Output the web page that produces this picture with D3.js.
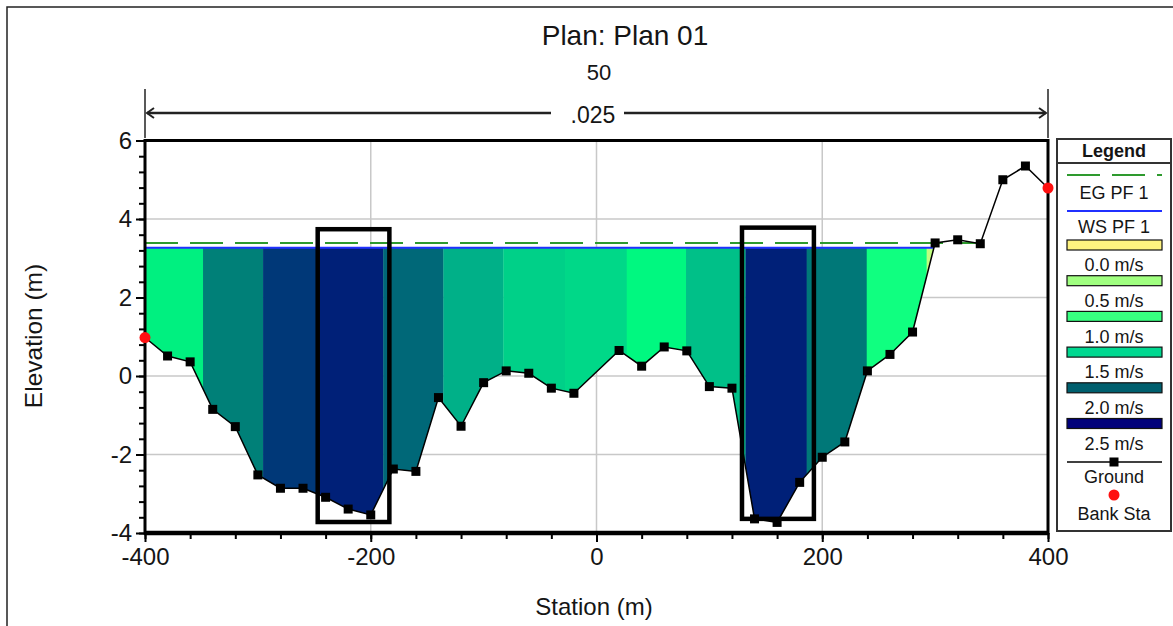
<!DOCTYPE html>
<html><head><meta charset="utf-8">
<script src="https://cdn.jsdelivr.net/npm/d3@7"></script>
<style>
body{margin:0;background:#fff;}
svg text{font-family:"Liberation Sans",Arial,sans-serif;fill:#151515;}
</style></head><body>
<svg id="c" width="1173" height="626"></svg>
<script>
// ---- data ----
const stations   = [-400,-380,-360,-340,-320,-300,-280,-260,-240,-220,-200,-180,-160,-140,-120,-100,-80,-60,-40,-20,
                    20,40,60,80,100,120,140,160,180,200,220,240,260,280,300,320,340,360,380,400];
const elevations = [0.98,0.51,0.36,-0.85,-1.29,-2.52,-2.86,-2.86,-3.09,-3.39,-3.54,-2.37,-2.43,-0.55,-1.28,-0.17,0.13,0.07,-0.31,-0.44,
                    0.65,0.25,0.74,0.64,-0.27,-0.31,-3.64,-3.73,-2.71,-2.07,-1.68,0.13,0.55,1.12,3.39,3.47,3.37,5.0,5.35,4.79];
const bankStations = [-400, 400];
const wsElevation = 3.27;
const egElevation = 3.39;
const egRight = 340;
const sliceEdges    = [-400,-348.6,-295.4,-247,-189,-135.7,-82.6,-27.9,26.8,79.3,132,186.2,239.4,292.5,300];
const sliceVelocity = [1.1,1.8,2.2,2.4,2.0,1.6,1.4,1.3,1.0,1.5,2.4,1.9,0.9,0.1];
const rampVelocity  = [0.1,0.9,1.0,1.1,1.3,1.4,1.5,1.6,1.8,1.9,2.0,2.2,2.4];
const rampColors    = ["#c0ff80","#10ff80","#00f880","#00f080","#00d888","#00d088","#00c088","#00b088","#008078","#007878","#006878","#003878","#002078"];
const legendVelocities = [0.0,0.5,1.0,1.5,2.0,2.5];
const legendLabels     = ["0.0 m/s","0.5 m/s","1.0 m/s","1.5 m/s","2.0 m/s","2.5 m/s"];
const legendColors     = ["#fff380","#a0ff80","#38ff80","#00d890","#005f6e","#00007a"];
const xTicks = [-400,-200,0,200,400];
const yTicks = [-4,-2,0,2,4,6];
const highlightBoxes = [[-247,-183.5,-3.72,3.74],[128.9,192.6,-3.64,3.78]];
const titleText = "Plan: Plan 01";
const subtitleText = "50";
const manningN = ".025";

// ---- chart ----
const svg = d3.select("#c");
const x = d3.scaleLinear().domain([-400,400]).range([145,1048]);
const y = d3.scaleLinear().domain([-4,6]).range([533,140.5]);
const velColor = d3.scaleLinear().domain(rampVelocity).range(rampColors).clamp(true);
const fmt = d => String(d);

// outer frame
svg.append("path").attr("d","M7,640 L7,7 L1180,7").attr("fill","none").attr("stroke","#222").attr("stroke-width",1.5);

// title
svg.append("text").attr("x",625).attr("y",35).attr("dy","0.35em").attr("text-anchor","middle").attr("font-size",28).text(titleText);
svg.append("text").attr("x",599).attr("y",72).attr("dy","0.35em").attr("text-anchor","middle").attr("font-size",22).text(subtitleText);

// Manning's n span arrow
const ay = 113;
const ag = svg.append("g").attr("stroke","#222").attr("fill","none");
ag.append("line").attr("x1",x(-400)).attr("x2",x(-400)).attr("y1",89).attr("y2",138).attr("stroke-width",1.5);
ag.append("line").attr("x1",x(400)).attr("x2",x(400)).attr("y1",89).attr("y2",138).attr("stroke-width",1.5);
ag.append("line").attr("x1",x(-400)+2).attr("x2",551).attr("y1",ay).attr("y2",ay).attr("stroke-width",2.5);
ag.append("line").attr("x1",624).attr("x2",x(400)-2).attr("y1",ay).attr("y2",ay).attr("stroke-width",2.5);
ag.append("path").attr("d",`M${x(-400)+9},${ay-5} L${x(-400)+2},${ay} L${x(-400)+9},${ay+5}`).attr("stroke-width",2);
ag.append("path").attr("d",`M${x(400)-9},${ay-5} L${x(400)-2},${ay} L${x(400)-9},${ay+5}`).attr("stroke-width",2);
svg.append("text").attr("x",593).attr("y",ay+2).attr("dy","0.35em").attr("text-anchor","middle").attr("font-size",23).text(manningN);

// grid
const grid = svg.append("g").attr("stroke","#c8c8c8").attr("stroke-width",1.5);
yTicks.filter(v=>v>-4 && v<6).forEach(v=>grid.append("line").attr("x1",x(-400)).attr("x2",x(400)).attr("y1",y(v)).attr("y2",y(v)));
xTicks.filter(v=>v>-400 && v<400).forEach(v=>grid.append("line").attr("y1",y(-4)).attr("y2",y(6)).attr("x1",x(v)).attr("x2",x(v)));

// water polygon (between WS and ground)
let xr = stations[stations.length-1], iCross = stations.length-1;
for (let i=0;i<stations.length-1;i++){
  if (elevations[i] < wsElevation && elevations[i+1] >= wsElevation){
    xr = stations[i] + (wsElevation-elevations[i])/(elevations[i+1]-elevations[i])*(stations[i+1]-stations[i]);
    iCross = i; break;
  }
}
const poly = [[stations[0], wsElevation],[xr, wsElevation]];
for (let i=iCross;i>=0;i--) poly.push([stations[i], elevations[i]]);
svg.append("clipPath").attr("id","water").append("path")
  .attr("d", d3.line().x(d=>x(d[0])).y(d=>y(d[1]))(poly)+"Z");
const wg = svg.append("g").attr("clip-path","url(#water)");
sliceVelocity.forEach((v,i)=>{
  wg.append("rect").attr("x",x(sliceEdges[i])).attr("width",x(sliceEdges[i+1])-x(sliceEdges[i])+0.3)
    .attr("y",y(wsElevation)).attr("height",y(-4)-y(wsElevation)).attr("fill",velColor(v));
});

// EG and WS lines
svg.append("line").attr("x1",x(-400)).attr("x2",x(egRight)).attr("y1",y(egElevation)).attr("y2",y(egElevation))
  .attr("stroke","#2e9a2e").attr("stroke-width",2).attr("stroke-dasharray","33,12");
svg.append("line").attr("x1",x(-400)).attr("x2",x(xr)).attr("y1",y(wsElevation)).attr("y2",y(wsElevation))
  .attr("stroke","#2030ff").attr("stroke-width",2);

// highlight boxes
highlightBoxes.forEach(b=>{
  svg.append("rect").attr("x",x(b[0])).attr("y",y(b[3])).attr("width",x(b[1])-x(b[0])).attr("height",y(b[2])-y(b[3]))
    .attr("fill","none").attr("stroke","#000").attr("stroke-width",4.5);
});

// ground
const gpts = stations.map((s,i)=>[s,elevations[i]]);
svg.append("path").attr("d",d3.line().x(d=>x(d[0])).y(d=>y(d[1]))(gpts)).attr("fill","none").attr("stroke","#000").attr("stroke-width",1.5);
svg.append("g").selectAll("rect").data(gpts.filter(d=>!bankStations.includes(d[0]))).join("rect")
  .attr("x",d=>x(d[0])-4.5).attr("y",d=>y(d[1])-4.5).attr("width",9).attr("height",9).attr("fill","#000");

// axes
const yAxis = svg.append("g").attr("transform",`translate(${x(-400)},0)`)
  .call(d3.axisLeft(y).tickValues(yTicks).tickSize(9).tickPadding(4).tickFormat(fmt));
const yMinor = svg.append("g").attr("transform",`translate(${x(-400)},0)`)
  .call(d3.axisLeft(y).tickValues(d3.range(0,26).map(i=>-4+i*0.4)).tickSize(6).tickFormat(""));
const xAxis = svg.append("g").attr("transform",`translate(0,${y(-4)})`)
  .call(d3.axisBottom(x).tickValues(xTicks).tickSize(9).tickPadding(6).tickFormat(fmt));
const xMinor = svg.append("g").attr("transform",`translate(0,${y(-4)})`)
  .call(d3.axisBottom(x).tickValues(d3.range(0,21).map(i=>-400+i*40)).tickSize(6).tickFormat(""));
[yAxis,yMinor,xAxis,xMinor].forEach(a=>{a.select(".domain").remove();a.selectAll("line").attr("stroke","#000").attr("stroke-width",2);});
[yAxis,xAxis].forEach(a=>a.selectAll("text").attr("font-size",24).attr("font-family","Liberation Sans, Arial, sans-serif").attr("fill","#151515"));

// plot border
svg.append("rect").attr("x",x(-400)).attr("y",y(6)).attr("width",x(400)-x(-400)).attr("height",y(-4)-y(6))
  .attr("fill","none").attr("stroke","#000").attr("stroke-width",3);
svg.append("line").attr("x1",x(-400)-1).attr("x2",x(400)+1).attr("y1",y(-4)).attr("y2",y(-4)).attr("stroke","#000").attr("stroke-width",4.5);

// bank stations
svg.append("g").selectAll("circle").data(gpts.filter(d=>bankStations.includes(d[0]))).join("circle")
  .attr("cx",d=>x(d[0])).attr("cy",d=>y(d[1])).attr("r",5.5).attr("fill","#ff1010");

// axis titles
svg.append("text").attr("x",594).attr("y",607).attr("dy","0.35em").attr("text-anchor","middle").attr("font-size",24).text("Station (m)");
svg.append("text").attr("transform","translate(33,336) rotate(-90)").attr("dy","0.35em").attr("text-anchor","middle").attr("font-size",24.5).text("Elevation (m)");

// legend
const L = svg.append("g");
const lx0 = 1057, lx1 = 1171, cx = 1114, lfs = 18;
L.append("rect").attr("x",lx0).attr("y",139).attr("width",lx1-lx0).attr("height",392).attr("fill","#fff").attr("stroke","#333").attr("stroke-width",2);
L.append("line").attr("x1",lx0).attr("x2",lx1).attr("y1",163).attr("y2",163).attr("stroke","#333").attr("stroke-width",2);
L.append("text").attr("x",cx).attr("y",151).attr("dy","0.35em").attr("text-anchor","middle").attr("font-size",lfs).attr("font-weight","bold").text("Legend");
L.append("line").attr("x1",1067).attr("x2",1162).attr("y1",175).attr("y2",175).attr("stroke","#2e9a2e").attr("stroke-width",2).attr("stroke-dasharray","33,12");
L.append("text").attr("x",cx).attr("y",193).attr("dy","0.35em").attr("text-anchor","middle").attr("font-size",lfs).text("EG PF 1");
L.append("line").attr("x1",1067).attr("x2",1162).attr("y1",211).attr("y2",211).attr("stroke","#2030ff").attr("stroke-width",2);
L.append("text").attr("x",cx).attr("y",227).attr("dy","0.35em").attr("text-anchor","middle").attr("font-size",lfs).text("WS PF 1");
const lsc = d3.scaleLinear().domain([0,2.5]).range([245,423.5]);
legendVelocities.forEach((v,i)=>{
  L.append("rect").attr("x",1067).attr("y",lsc(v)-5).attr("width",95).attr("height",10).attr("fill",legendColors[i]).attr("stroke","#111").attr("stroke-width",1.2);
  L.append("text").attr("x",cx).attr("y",lsc(v)+20).attr("dy","0.35em").attr("text-anchor","middle").attr("font-size",lfs).text(legendLabels[i]);
});
L.append("line").attr("x1",1067).attr("x2",1162).attr("y1",462).attr("y2",462).attr("stroke","#000").attr("stroke-width",1.5);
L.append("rect").attr("x",cx-4.5).attr("y",457.5).attr("width",9).attr("height",9).attr("fill","#000");
L.append("text").attr("x",cx).attr("y",477).attr("dy","0.35em").attr("text-anchor","middle").attr("font-size",lfs).text("Ground");
L.append("circle").attr("cx",cx).attr("cy",495).attr("r",5.5).attr("fill","#ff1010");
L.append("text").attr("x",cx).attr("y",514).attr("dy","0.35em").attr("text-anchor","middle").attr("font-size",lfs).text("Bank Sta");
</script>
</body></html>
